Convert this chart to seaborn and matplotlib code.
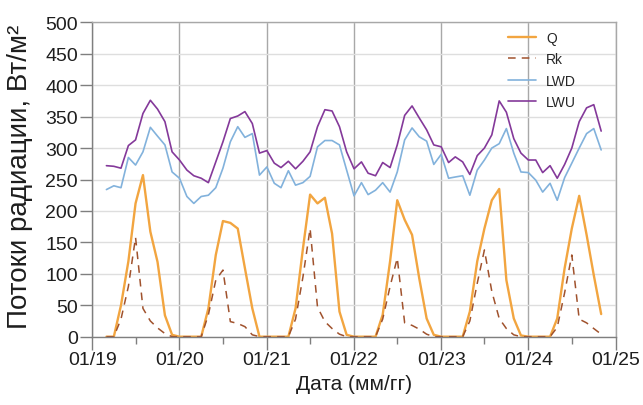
import matplotlib
matplotlib.use("Agg")
import matplotlib.pyplot as plt
import matplotlib.dates as mdates
import numpy as np
import pandas as pd
import seaborn as sns

# ---------------- data (monthly, Mar 2019 - Nov 2024) ----------------
start_month = "2019-03-01"
end_month = "2024-11-01"

q_vals = [0, 0, 50, 120, 212, 257, 167, 119, 34, 3,
          0, 0, 0, 0, 45, 130, 184, 181, 172, 109, 45, 0,
          0, 0, 0, 0, 45, 140, 226, 212, 221, 164, 40, 3,
          0, 0, 0, 0, 35, 120, 217, 186, 162, 93, 29, 3,
          0, 0, 0, 0, 40, 120, 172, 217, 235, 90, 29, 2,
          0, 0, 0, 0, 29, 109, 172, 224, 162, 98, 36]

rk_vals = [0, 0, 28, 80, 158, 45, 25, 14, 5, 0,
           0, 0, 0, 0, 35, 90, 106, 24, 21, 16, 3, 0,
           0, 0, 0, 0, 28, 95, 172, 47, 24, 13, 4, 0,
           0, 0, 0, 0, 28, 80, 125, 22, 18, 12, 4, 0,
           0, 0, 0, 0, 25, 85, 138, 72, 29, 13, 3, 0,
           0, 0, 0, 0, 15, 70, 130, 28, 22, 13, 4]

lwd_vals = [234, 240, 237, 285, 273, 294, 333, 319, 305, 262,
            252, 223, 212, 223, 225, 237, 268, 310, 334, 317, 323, 257,
            270, 244, 237, 264, 241, 245, 255, 302, 312, 312, 305, 265,
            224, 245, 226, 233, 245, 230, 262, 313, 332, 318, 311, 274,
            290, 252, 254, 256, 225, 265, 281, 300, 307, 331, 292, 262,
            261, 249, 230, 244, 217, 253, 276, 300, 323, 331, 297]

lwu_vals = [272, 271, 268, 304, 313, 355, 376, 362, 342, 294,
            281, 265, 256, 252, 245, 278, 310, 347, 351, 358, 339, 292,
            296, 276, 269, 279, 267, 279, 294, 334, 361, 359, 334, 294,
            267, 278, 260, 256, 277, 269, 305, 352, 367, 348, 329, 305,
            302, 277, 286, 278, 258, 288, 300, 321, 375, 357, 315, 292,
            281, 281, 261, 272, 252, 274, 300, 342, 364, 369, 327]

series_names = ["Q", "Rk", "LWD", "LWU"]
y_ticks = list(range(0, 501, 50))

dates = pd.date_range(start_month, end_month, freq="MS")
df = pd.DataFrame({"date": dates, "Q": q_vals, "Rk": rk_vals,
                   "LWD": lwd_vals, "LWU": lwu_vals})

# ---------------- style ----------------
sns.set_style("white")
plt.rcParams["font.family"] = ["Liberation Sans", "DejaVu Sans"]

fig = plt.figure(figsize=(6.43, 4.06), dpi=100)
ax = fig.add_axes([0.1436, 0.1682, 0.814, 0.7744])

styles = {
    "Q":   dict(color="#f2a540", lw=1.7, ls="-"),
    "Rk":  dict(color="#a0522d", lw=1.1, ls=(0, (5, 4))),
    "LWD": dict(color="#82b2dc", lw=1.2, ls="-"),
    "LWU": dict(color="#84399a", lw=1.2, ls="-"),
}

for name in series_names:
    st = styles[name]
    sns.lineplot(data=df, x="date", y=name, color=st["color"], lw=st["lw"],
                 linestyle=st["ls"], label=name, ax=ax)

for ln in ax.lines:
    ln.set_clip_on(False)

ax.set_xlim(pd.Timestamp("2019-01-01"), pd.Timestamp("2025-01-01"))
ax.set_ylim(0, 500)
ax.set_yticks(y_ticks)
ax.xaxis.set_major_locator(mdates.YearLocator())
ax.xaxis.set_minor_locator(mdates.MonthLocator(bymonth=7))
ax.xaxis.set_major_formatter(mdates.DateFormatter("%m/%y"))

ax.set_axisbelow(True)
ax.grid(axis="x", which="major", color="#a8a8a8", lw=1)
ax.grid(axis="y", which="major", color="#dedede", lw=1)

for side in ["left", "bottom"]:
    ax.spines[side].set_color("#7f7f7f")
    ax.spines[side].set_linewidth(1)
for side in ["top", "right"]:
    ax.spines[side].set_color("#a8a8a8")
    ax.spines[side].set_linewidth(1)

ax.tick_params(axis="x", which="major", direction="out", length=9,
               width=1, color="#7f7f7f", labelsize=14, pad=1,
               labelcolor="#1e1e1e", bottom=True)
ax.tick_params(axis="x", which="minor", direction="out", length=5,
               width=1, color="#7f7f7f", bottom=True)
ax.tick_params(axis="y", which="major", direction="out", length=9,
               width=1, color="#7f7f7f", labelsize=14, pad=1.5,
               labelcolor="#1e1e1e", left=True)

ax.set_xlabel("Дата (мм/гг)", fontsize=15, color="#1e1e1e")
ax.set_ylabel("Потоки радиации, Вт/м²", fontsize=20, color="#1e1e1e")
ax.xaxis.set_label_coords(0.5, -0.118)
ax.yaxis.set_label_coords(-0.113, 0.51)

ax.legend(loc="upper left", bbox_to_anchor=(0.795, 0.972), frameon=False,
          fontsize=10, handlelength=2.0, handletextpad=0.7,
          labelspacing=0.52, borderpad=0, borderaxespad=0)

fig.savefig("out.png", dpi=100)
